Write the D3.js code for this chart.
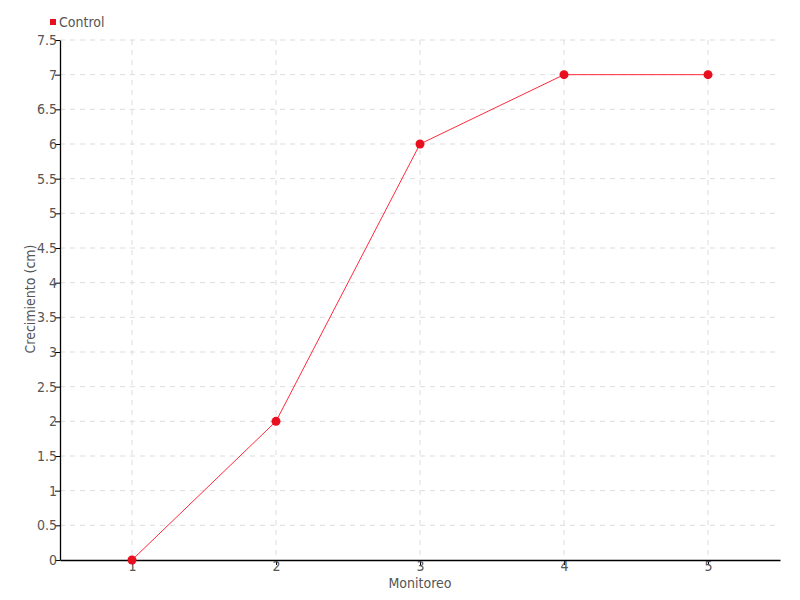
<!DOCTYPE html>
<html><head><meta charset="utf-8">
<script src="https://cdn.jsdelivr.net/npm/d3@7"></script>
<style>
body{margin:0;background:#fff;}
text{font-family:"DejaVu Sans Condensed","DejaVu Sans",sans-serif;font-stretch:condensed;}
</style></head><body>
<svg id="c" width="800" height="600"></svg>
<script>
const categories = ["1","2","3","4","5"];
const seriesName = "Control";
const values = [0, 2, 6, 7, 7];
const yTicks = [0,0.5,1,1.5,2,2.5,3,3.5,4,4.5,5,5.5,6,6.5,7,7.5];

const svg = d3.select("#c");
const L=60,R=780,T=40,B=560;
const x = d3.scalePoint().domain(categories).range([L,R]).padding(0.5);
const y = d3.scaleLinear().domain([0,7.5]).range([B,T]);
const txt="#555";

// grid
const g = svg.append("g");
g.selectAll(".hy").data(yTicks.filter(d=>d>0)).join("line")
 .attr("x1",L).attr("x2",R).attr("y1",d=>y(d)).attr("y2",d=>y(d))
 .attr("stroke","#ddd").attr("stroke-dasharray","5,5");
g.selectAll(".vx").data(categories).join("line")
 .attr("x1",d=>x(d)).attr("x2",d=>x(d)).attr("y1",T).attr("y2",B)
 .attr("stroke","#ddd").attr("stroke-dasharray","5,5");

// axes
const xa = svg.append("g").attr("transform",`translate(0,${B})`)
 .call(d3.axisBottom(x).tickSize(5).tickSizeOuter(0));
const ya = svg.append("g").attr("transform",`translate(${L},0)`)
 .call(d3.axisLeft(y).tickValues(yTicks).tickFormat(d3.format("")).tickSize(5).tickSizeOuter(0));
[xa,ya].forEach(a=>{
  a.select(".domain").attr("stroke","#000").attr("stroke-width",1.3);
  a.selectAll(".tick line").attr("stroke","#000");
  a.selectAll(".tick text").attr("fill",txt).attr("font-size",14)
   .attr("font-family","'DejaVu Sans Condensed','DejaVu Sans',sans-serif");
});
xa.selectAll(".tick text").attr("dy","0.5em").attr("y",4);
ya.selectAll(".tick text").attr("x",-3);

// axis titles
svg.append("text").attr("x",420).attr("y",588).attr("text-anchor","middle")
 .attr("fill",txt).attr("font-size",14).text("Monitoreo");
svg.append("text").attr("transform",`translate(35,299) rotate(-90)`).attr("text-anchor","middle")
 .attr("fill",txt).attr("font-size",14).text("Crecimiento (cm)");

// line
const line = d3.line().x((d,i)=>x(categories[i])).y(d=>y(d));
svg.append("path").datum(values).attr("d",line).attr("fill","none")
 .attr("stroke","#ff2a3a").attr("stroke-width",1);
svg.selectAll(".pt").data(values).join("circle")
 .attr("cx",(d,i)=>x(categories[i])).attr("cy",d=>y(d)).attr("r",4.5)
 .attr("fill","#e8101f");

// legend
svg.append("rect").attr("x",50).attr("y",19).attr("width",6).attr("height",6).attr("fill","#e8101f");
svg.append("text").attr("x",59).attr("y",27).attr("fill",txt).attr("font-size",14).text(seriesName);
</script></body></html>
